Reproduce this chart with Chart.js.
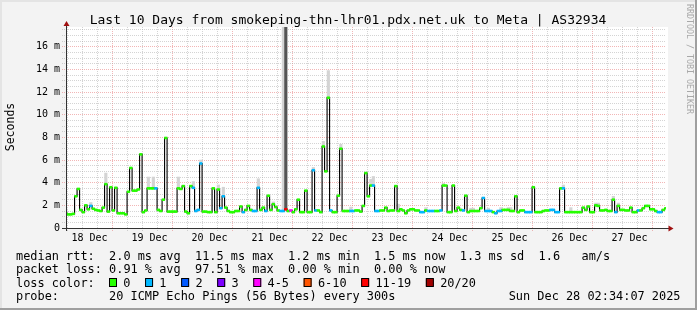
<!DOCTYPE html>
<html>
<head>
<meta charset="utf-8">
<script src="https://cdn.jsdelivr.net/npm/chart.js@4.4.1/dist/chart.umd.min.js"></script>
<style>
  html, body { margin: 0; padding: 0; background: #f3f3f3; }
  canvas { display: block; }
</style>
</head>
<body>
<canvas id="chart" width="697" height="310"></canvas>
<script>
// time axis: hours since 18 Dec 00:00, window = 10 days ending 28 Dec 02:34
const START_HOUR = 2 + 34 / 60;
const END_HOUR = START_HOUR + 240;
const FIRST_SLOT = 2; // first hourly sample starts at 02:00

const dayLabels = ["18 Dec", "19 Dec", "20 Dec", "21 Dec", "22 Dec", "23 Dec", "24 Dec", "25 Dec", "26 Dec", "27 Dec"];
const Y_MAX = 17.75;

// median rtt per hour (ms)
const median = [
  1.3, 1.2, 1.2, 1.25, 2.8, 3.45, 1.6, 1.4, 2.0, 1.65,
  1.95, 1.7, 1.6, 1.55, 1.5, 1.8, 3.87, 1.45, 3.6, 1.55,
  3.55, 1.3, 1.3, 1.3, 1.2, 3.2, 5.3, 3.3, 3.3, 3.4,
  6.5, 1.4, 1.55, 3.5, 3.5, 3.5, 3.5, 1.6, 1.5, 2.5,
  7.95, 1.45, 1.45, 1.45, 1.45, 3.5, 3.45, 3.7, 1.45, 1.3,
  3.7, 3.55, 1.5, 1.6, 5.7, 1.45, 1.45, 1.4, 1.4, 3.5,
  1.4, 3.4, 1.75, 2.8, 1.8, 1.5, 1.4, 1.4, 1.5, 1.5,
  1.9, 1.4, 1.6, 1.95, 1.6, 1.5, 1.5, 3.55, 1.6, 1.8,
  1.5, 2.85, 1.6, 2.1, 1.85, 1.55, 1.5, 1.5, 1.65, 1.5,
  1.55, 1.4, 1.65, 2.5, 1.4, 1.4, 3.3, 1.4, 1.4, 5.1,
  1.55, 1.55, 1.4, 7.2, 5.0, 11.5, 1.55, 1.4, 1.4, 2.85,
  7.0, 1.5, 1.5, 1.5, 1.5, 1.5, 1.55, 1.55, 1.45, 1.95,
  4.85, 2.8, 3.75, 3.75, 1.5, 1.5, 1.55, 1.55, 1.8, 1.5,
  1.55, 1.55, 3.7, 1.5, 1.65, 1.55, 1.3, 1.55, 1.65, 1.65,
  1.55, 1.55, 1.4, 1.4, 1.55, 1.5, 1.5, 1.5, 1.5, 1.5,
  1.55, 3.75, 3.75, 1.4, 1.4, 3.75, 1.5, 1.8, 1.6, 1.55,
  2.85, 1.4, 1.5, 1.5, 1.5, 1.5, 1.75, 2.65, 1.5, 1.5,
  1.5, 1.4, 1.3, 1.5, 1.5, 1.6, 1.6, 1.6, 1.5, 1.5,
  2.8, 1.4, 1.55, 1.55, 1.4, 1.4, 1.4, 3.6, 1.4, 1.4,
  1.4, 1.5, 1.55, 1.55, 1.6, 1.6, 1.4, 1.4, 3.5, 3.5,
  1.4, 1.4, 1.4, 1.4, 1.4, 1.4, 1.4, 1.8, 1.6, 1.9,
  1.4, 1.4, 2.0, 1.95, 1.55, 1.55, 1.6, 1.5, 1.5, 2.5,
  1.4, 1.95, 1.6, 1.6, 1.55, 1.55, 1.8, 1.4, 1.4, 1.55,
  1.55, 1.75, 1.95, 1.95, 1.65, 1.65, 1.5, 1.4, 1.4, 1.6,
  1.75
];

// hours with packet loss (index into median) and their loss class
const lossSlots = [10, 36, 51, 52, 53, 54, 62, 63, 71, 75, 76, 77, 80, 86, 87, 88, 90, 99, 100, 106,
  114, 115, 123, 124, 125, 142, 143, 145, 146, 147, 150, 159, 167, 168, 169, 170, 172, 173, 174,
  184, 185, 186, 194, 195, 196, 197, 199, 220, 229, 237, 238];
const lossLevels = [1, 1, 1, 1, 1, 1, 1, 1, 1, 1, 1, 1, 1, 1, 1, 6, 4, 1, 1, 1,
  1, 1, 1, 1, 1, 1, 1, 1, 1, 1, 1, 1, 1, 1, 1, 1, 1, 1, 1,
  1, 1, 1, 1, 1, 1, 1, 1, 1, 1, 1, 1];

const lossNames = ["0", "1", "2", "3", "4-5", "6-10", "11-19", "20/20"];
const lossColors = ["#26ff00", "#00b8ff", "#0059ff", "#7e00ff", "#ff00ff", "#ff5500", "#ff0000", "#a00000"];

// smoke (spread of the 20 pings above the median)
const smokeSlots = [0, 10, 16, 33, 35, 45, 51, 54, 61, 63, 77, 83, 87, 99, 103, 105, 110, 114, 122, 123,
  133, 144, 151, 162, 163, 169, 174, 177, 178, 199, 202, 212, 213, 219, 221];
const smokeTops = [1.7, 2.25, 4.85, 4.5, 4.5, 4.5, 4.1, 6.0, 3.8, 3.6, 4.35, 2.3, 17.75, 5.35, 7.65, 13.9, 7.4, 1.85, 4.3, 4.55,
  2.1, 1.8, 3.95, 1.75, 1.75, 1.75, 1.8, 1.8, 1.8, 3.8, 1.8, 2.2, 2.2, 2.8, 2.2];
const denseSlots = [88];
const denseTops = [17.75];

const titleText = "Last 10 Days from smokeping-thn-lhr01.pdx.net.uk to Meta | AS32934";
const statLines = [
  "median rtt:  2.0 ms avg  11.5 ms max  1.2 ms min  1.5 ms now  1.3 ms sd  1.6   am/s",
  "packet loss: 0.91 % avg  97.51 % max  0.00 % min  0.00 % now"
];
const probeText = "probe:       20 ICMP Echo Pings (56 Bytes) every 300s";
const stampText = "Sun Dec 28 02:34:07 2025";

const MONO = '"DejaVu Sans Mono", monospace';
const majorGrid = "rgba(230, 110, 110, 0.5)";
const minorGrid = "rgba(160, 160, 160, 0.45)";

// build datasets
const slotHour = k => FIRST_SLOT + k;
const lossOf = k => {
  const i = lossSlots.indexOf(k);
  return i < 0 ? 0 : lossLevels[i];
};

const lineData = median.map((v, k) => ({ x: slotHour(k), y: v }));
lineData.push({ x: slotHour(median.length), y: median[median.length - 1] });

const bandData = median.map((v, k) => ({ x: slotHour(k) + 0.5, y: [v - 0.085, v + 0.085] }));
const bandColors = median.map((v, k) => lossColors[lossOf(k)]);

const smokeData = smokeSlots.map((k, i) => ({ x: slotHour(k) + 0.5, y: [median[k] - 0.05, smokeTops[i]] }));
const denseData = denseSlots.map((k, i) => ({ x: slotHour(k) + 0.5, y: [median[k], denseTops[i]] }));

const gridHours = [];
for (let h = Math.ceil(START_HOUR / 6) * 6; h <= END_HOUR; h += 6) gridHours.push(h);

const barBase = {
  type: "bar",
  grouped: false,
  barPercentage: 1,
  categoryPercentage: 1,
  borderWidth: 0
};

const framePlugin = {
  id: "frame",
  beforeDraw(chart) {
    const { ctx, chartArea: a, width, height } = chart;
    ctx.save();
    ctx.fillStyle = "#f3f3f3";
    ctx.fillRect(0, 0, width, height);
    ctx.fillStyle = "#ffffff";
    ctx.fillRect(a.left, a.top, a.right - a.left + 2, a.bottom - a.top);
    // shaded frame
    ctx.fillStyle = "#e4e4e4";
    ctx.fillRect(0, 0, width, 2);
    ctx.fillRect(0, 0, 2, height);
    ctx.fillStyle = "#9f9f9f";
    ctx.fillRect(0, height - 2, width, 2);
    ctx.fillRect(width - 2, 0, 2, height);
    ctx.restore();
  },
  afterDraw(chart) {
    const { ctx, chartArea: a } = chart;
    ctx.save();
    // axes
    ctx.strokeStyle = "#333333";
    ctx.lineWidth = 1;
    ctx.beginPath();
    ctx.moveTo(a.left + 0.5, a.bottom + 3);
    ctx.lineTo(a.left + 0.5, a.top - 4);
    ctx.moveTo(a.left - 4, a.bottom + 0.5);
    ctx.lineTo(a.right + 4, a.bottom + 0.5);
    ctx.stroke();
    ctx.fillStyle = "#a01010";
    ctx.beginPath();
    ctx.moveTo(a.left + 0.5, a.top - 6);
    ctx.lineTo(a.left - 2.5, a.top - 1);
    ctx.lineTo(a.left + 3.5, a.top - 1);
    ctx.closePath();
    ctx.fill();
    ctx.beginPath();
    ctx.moveTo(a.right + 7.5, a.bottom + 0.5);
    ctx.lineTo(a.right + 2.5, a.bottom - 2.5);
    ctx.lineTo(a.right + 2.5, a.bottom + 3.5);
    ctx.closePath();
    ctx.fill();

    // title
    ctx.fillStyle = "#000";
    ctx.font = "13px " + MONO;
    ctx.textAlign = "center";
    ctx.textBaseline = "alphabetic";
    ctx.fillText(titleText, 348, 23.5);

    // y axis title
    ctx.save();
    ctx.translate(11, 127);
    ctx.rotate(-Math.PI / 2);
    ctx.font = "11.5px " + MONO;
    ctx.textBaseline = "middle";
    ctx.fillText("Seconds", 0, 0);
    ctx.restore();

    // watermark
    ctx.save();
    ctx.translate(689, 4);
    ctx.rotate(Math.PI / 2);
    ctx.font = "8.3px " + MONO;
    ctx.fillStyle = "#a8a8a8";
    ctx.textAlign = "left";
    ctx.textBaseline = "middle";
    ctx.fillText("RRDTOOL / TOBI OETIKER", 0, 0);
    ctx.restore();

    // legend block
    ctx.font = "11.9px " + MONO;
    ctx.textAlign = "left";
    ctx.textBaseline = "alphabetic";
    ctx.fillStyle = "#000";
    ctx.fillText(statLines[0], 16, 259.5);
    ctx.fillText(statLines[1], 16, 273);
    ctx.fillText("loss color:", 16, 286.7);
    let x = 109;
    lossNames.forEach((name, i) => {
      ctx.fillStyle = lossColors[i];
      ctx.fillRect(x, 278.5, 8, 8);
      ctx.strokeStyle = "#000";
      ctx.strokeRect(x + 0.5, 278.5, 7, 8);
      ctx.fillStyle = "#000";
      ctx.fillText(name, x + 14.3, 286.7);
      x += 14.3 + ctx.measureText(name).width + 14.6;
    });
    ctx.fillText(probeText, 16, 300.4);
    ctx.textAlign = "right";
    ctx.fillText(stampText, 680.5, 300.4);
    ctx.restore();
  }
};

new Chart(document.getElementById("chart"), {
  type: "bar",
  data: {
    datasets: [
      Object.assign({}, barBase, { label: "loss", data: bandData, backgroundColor: bandColors, order: 0 }),
      {
        type: "line",
        label: "median",
        data: lineData,
        stepped: true,
        borderColor: "#000000",
        borderWidth: 1.1,
        pointRadius: 0,
        fill: false,
        order: 1
      },
      Object.assign({}, barBase, { label: "dense", data: denseData, backgroundColor: "#555555", order: 2 }),
      Object.assign({}, barBase, { label: "smoke", data: smokeData, backgroundColor: "#d4d4d4", order: 3 })
    ]
  },
  options: {
    responsive: false,
    animation: false,
    layout: { padding: { top: 27, right: 31, left: 0, bottom: 0 } },
    plugins: { legend: { display: false }, tooltip: { enabled: false } },
    scales: {
      x: {
        type: "linear",
        min: START_HOUR,
        max: END_HOUR,
        offset: false,
        afterBuildTicks: s => { s.ticks = gridHours.map(h => ({ value: h })); },
        afterFit: s => { s.height = 82; },
        border: { display: false, dash: [1, 1] },
        grid: {
          color: c => (c.tick && c.tick.value % 24 === 0 ? majorGrid : minorGrid),
          tickColor: c => (c.tick && c.tick.value % 24 === 0 ? majorGrid : minorGrid),
          tickLength: 3,
          tickBorderDash: [1, 1]
        },
        ticks: {
          autoSkip: false,
          maxRotation: 0,
          padding: 1,
          color: "#000",
          font: { family: MONO, size: 10 },
          callback: v => (v % 24 === 12 ? dayLabels[(v - 12) / 24] : "")
        }
      },
      y: {
        min: 0,
        max: Y_MAX,
        afterFit: s => { s.width = 66; },
        border: { display: false, dash: [1, 1] },
        grid: {
          color: c => (c.tick && c.tick.value % 2 === 0 ? majorGrid : minorGrid),
          tickColor: c => (c.tick && c.tick.value % 2 === 0 ? majorGrid : minorGrid),
          tickLength: 4,
          tickBorderDash: [1, 1]
        },
        ticks: {
          stepSize: 0.5,
          autoSkip: false,
          includeBounds: false,
          padding: 2,
          color: "#000",
          font: { family: MONO, size: 10 },
          callback: v => (v % 2 === 0 ? (v === 0 ? "0" : v + " m") : "")
        }
      }
    }
  },
  plugins: [framePlugin]
});
</script>
</body>
</html>
